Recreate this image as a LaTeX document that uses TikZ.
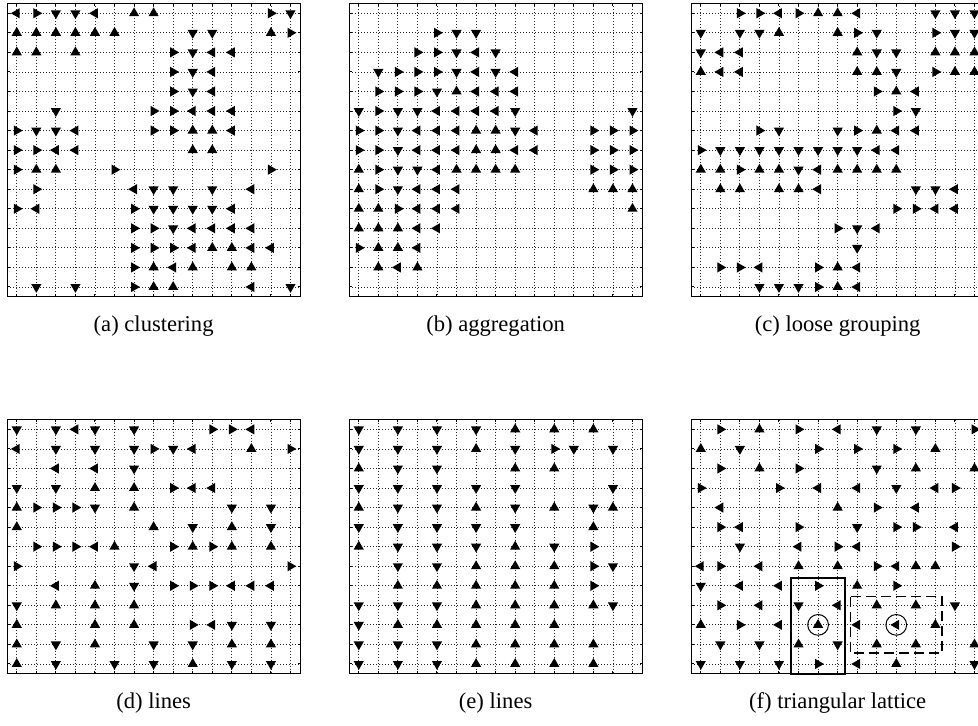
\documentclass[tikz,border=0pt]{standalone}
\usepackage{fontspec}
\setmainfont{Liberation Serif}
\usetikzlibrary{shapes.geometric}

% one panel: #1 name, #2 left, #3 top (px), #4 number of rows, #5 caption, #6 rows (o = empty)
\newcommand{\lattice}[6]{%
  \begin{scope}[shift={(#2,#3)}, x=9.775pt, y=-9.775pt]
    \foreach \k in {1,...,15} {
      \draw[gridline] (\k-0.5,0) -- (\k-0.5,#4);
      \draw[axisbox] (\k-0.5,0) -- (\k-0.5,0.14) (\k-0.5,#4) -- (\k-0.5,#4-0.14);
    }
    \foreach \k in {1,...,#4} {
      \draw[gridline] (0,\k-0.5) -- (15,\k-0.5);
      \draw[axisbox] (0,\k-0.5) -- (0.14,\k-0.5) (15,\k-0.5) -- (14.86,\k-0.5);
    }
    \draw[axisbox] (0,0) rectangle (15,#4);
    \foreach \rowlist [count=\ri] in {#6} {
      \foreach \m [count=\ci] in \rowlist {
        \if o\m\else
          \node[tri\m] (#1-\ri-\ci) at (\ci-0.5,\ri-0.5) {};
        \fi
      }
    }
    \node[caption] (#1-cap) at (7.5,#4+1.79) {#5};
  \end{scope}
}

\begin{document}
\begin{tikzpicture}[
    x=0.5pt, y=-0.5pt,
    tri/.style={regular polygon, regular polygon sides=3, fill=black, inner sep=0pt, minimum size=5.9pt},
    triU/.style={tri},
    triD/.style={tri, rotate=180},
    triL/.style={tri, rotate=90},
    triR/.style={tri, rotate=-90},
    gridline/.style={black!85, line width=0.4pt, dash pattern=on 0.5pt off 1pt},
    axisbox/.style={black, line width=0.5pt},
    caption/.style={font=\fontsize{11.3}{13}\selectfont, anchor=base},
    region/.style={black, line width=0.75pt},
]
\useasboundingbox (0,0) rectangle (978,726);
\clip (0,0) rectangle (978,726);

% (a) clustering
\lattice{a}{7}{3.5}{15}{(a) clustering}{%
  {L,R,D,D,L,o,U,U,o,o,o,o,o,R,D},
  {U,U,U,U,U,U,o,o,o,D,D,o,o,U,R},
  {U,U,o,U,o,o,o,o,R,D,L,L,o,o,o},
  {o,o,o,o,o,o,o,o,R,D,L,o,o,o,o},
  {o,o,o,o,o,o,o,o,R,D,L,o,o,o,o},
  {o,o,D,o,o,o,o,R,R,L,L,L,o,o,o},
  {R,D,D,L,o,o,o,R,R,U,U,L,o,o,o},
  {R,R,L,L,o,o,o,o,o,U,U,o,o,o,o},
  {R,U,U,o,o,R,o,o,o,o,o,o,o,R,o},
  {o,R,o,o,o,o,L,D,D,o,D,o,L,o,o},
  {R,L,o,o,o,o,R,D,D,D,D,L,o,o,o},
  {o,o,o,o,o,o,R,R,D,L,L,L,L,o,o},
  {o,o,o,o,o,o,R,R,R,L,U,U,L,L,o},
  {o,o,o,o,o,o,R,U,L,U,o,U,U,o,o},
  {o,D,o,D,o,o,R,U,U,o,o,o,L,o,D}}

% (b) aggregation
\lattice{b}{349}{3.5}{15}{(b) aggregation}{%
  {o,o,o,o,o,o,o,o,o,o,o,o,o,o,o},
  {o,o,o,o,R,D,D,o,o,o,o,o,o,o,o},
  {o,o,o,R,R,D,L,D,o,o,o,o,o,o,o},
  {o,D,R,R,R,D,L,D,L,o,o,o,o,o,o},
  {o,R,R,R,D,U,L,L,L,o,o,o,o,o,o},
  {D,R,D,D,L,L,L,L,D,o,o,o,o,o,D},
  {R,R,D,L,L,L,U,U,D,L,o,o,R,R,R},
  {R,R,D,L,L,L,U,U,L,L,o,o,R,R,R},
  {U,R,D,D,L,U,U,U,U,o,o,o,R,R,R},
  {U,R,D,L,L,L,o,o,o,o,o,o,U,U,U},
  {U,U,R,L,L,L,o,o,o,o,o,o,o,o,U},
  {U,U,U,L,L,o,o,o,o,o,o,o,o,o,o},
  {R,U,U,L,o,o,o,o,o,o,o,o,o,o,o},
  {o,U,L,U,o,o,o,o,o,o,o,o,o,o,o},
  {o,o,o,o,o,o,o,o,o,o,o,o,o,o,o}}

% (c) loose grouping
\lattice{c}{691}{3.5}{15}{(c) loose grouping}{%
  {o,o,R,R,L,R,U,U,L,o,o,o,D,D,D},
  {D,o,D,D,U,o,o,U,R,D,o,o,R,D,D},
  {D,L,L,o,o,o,o,o,U,D,D,o,U,U,U},
  {U,L,L,o,o,o,o,o,U,U,D,o,R,U,U},
  {o,o,o,o,o,o,o,o,o,R,U,L,o,o,o},
  {o,o,o,o,o,o,o,o,o,o,R,D,o,o,o},
  {o,o,o,R,D,o,o,D,R,U,L,L,o,o,o},
  {R,D,D,D,D,D,D,D,D,L,L,o,o,o,o},
  {U,U,R,U,U,D,L,U,U,U,U,o,o,o,o},
  {o,U,U,o,U,U,L,o,o,o,o,D,D,L,o},
  {o,o,o,o,o,o,o,o,o,o,R,R,L,L,o},
  {o,o,o,o,o,o,o,R,D,L,o,o,o,o,o},
  {o,o,o,o,o,o,o,o,D,o,o,o,o,o,o},
  {o,R,R,L,o,o,R,U,L,o,o,o,o,o,o},
  {o,o,o,D,D,D,R,U,L,o,o,o,o,o,o}}

% (d) lines
\lattice{d}{7}{419.6}{13}{(d) lines}{%
  {D,o,D,L,D,o,D,o,o,o,R,R,L,o,o},
  {L,o,D,o,D,o,D,R,D,L,o,o,U,o,R},
  {o,o,L,o,L,o,D,o,o,o,o,o,o,o,o},
  {D,o,D,o,U,o,U,o,R,L,L,o,o,o,o},
  {U,R,R,R,D,o,U,o,o,o,o,D,o,D,o},
  {U,o,o,o,o,o,o,U,o,D,o,U,o,D,o},
  {o,R,R,R,L,U,o,o,R,U,R,U,o,U,o},
  {R,o,o,o,o,o,D,L,o,o,o,o,o,o,R},
  {o,o,L,o,U,o,D,o,R,R,R,L,L,L,o},
  {D,o,U,o,U,o,U,o,o,o,o,o,o,o,o},
  {U,o,o,o,U,o,U,o,o,R,L,D,o,D,o},
  {U,o,D,o,U,o,o,D,o,D,o,U,o,U,o},
  {U,o,D,o,o,D,o,D,o,U,o,D,o,D,o}}

% (e) lines
\lattice{e}{349}{419.6}{13}{(e) lines}{%
  {D,o,D,o,D,o,D,o,U,o,U,o,U,o,o},
  {D,o,D,o,D,o,U,o,D,o,R,D,o,D,o},
  {U,o,D,o,D,o,o,o,U,o,U,o,o,o,o},
  {D,o,D,o,D,o,D,o,D,o,o,o,o,D,o},
  {U,o,D,o,D,o,U,o,D,o,U,o,D,U,o},
  {D,o,D,o,D,o,D,o,D,o,o,o,U,o,o},
  {U,o,D,o,D,o,D,o,U,o,D,o,R,o,o},
  {o,o,D,o,D,o,U,o,U,o,U,o,R,D,o},
  {o,o,U,o,U,o,U,o,U,o,U,o,R,o,o},
  {D,o,D,o,D,o,U,o,U,o,U,o,U,D,o},
  {D,o,U,o,U,o,U,o,U,o,U,o,o,o,o},
  {D,o,D,o,D,o,U,o,U,o,U,o,U,o,o},
  {D,o,D,o,D,o,U,o,U,o,U,o,U,o,o}}

% (f) triangular lattice
\lattice{f}{691}{419.6}{13}{(f) triangular lattice}{%
  {o,R,o,U,o,R,o,L,o,D,o,D,o,o,R},
  {U,o,D,o,o,o,R,o,R,o,R,o,U,o,o},
  {o,R,o,U,o,R,o,o,o,D,o,U,o,o,U},
  {R,o,o,o,R,o,L,o,L,o,D,o,L,R,o},
  {o,L,o,o,o,o,o,U,o,R,o,L,o,o,o},
  {o,R,L,o,o,R,o,o,D,o,R,R,o,L,o},
  {o,o,D,o,o,L,o,R,L,o,o,o,o,R,o},
  {L,R,o,L,o,U,o,U,o,R,L,U,U,o,o},
  {D,o,L,o,L,o,R,o,U,o,R,o,o,o,o},
  {o,R,o,L,o,D,o,L,o,U,o,U,o,D,o},
  {U,o,R,o,L,o,U,o,L,o,L,o,U,o,o},
  {o,D,o,D,o,U,o,D,o,U,o,U,o,o,U},
  {D,o,D,o,D,o,R,o,L,o,U,o,o,o,D}}

% marked neighbourhoods in (f)
\begin{scope}[shift={(691,419.6)}, x=9.775pt, y=-9.775pt]
  \draw[region] (5.12,8.1) rectangle (7.88,13);
  \draw[region, dash pattern=on 5pt off 2.5pt] (8.17,9.05) rectangle (12.83,11.95);
  \draw[region, line width=0.5pt] (f-11-7) circle (0.53);
  \draw[region, line width=0.5pt] (f-11-11) circle (0.53);
\end{scope}

\end{tikzpicture}
\end{document}
